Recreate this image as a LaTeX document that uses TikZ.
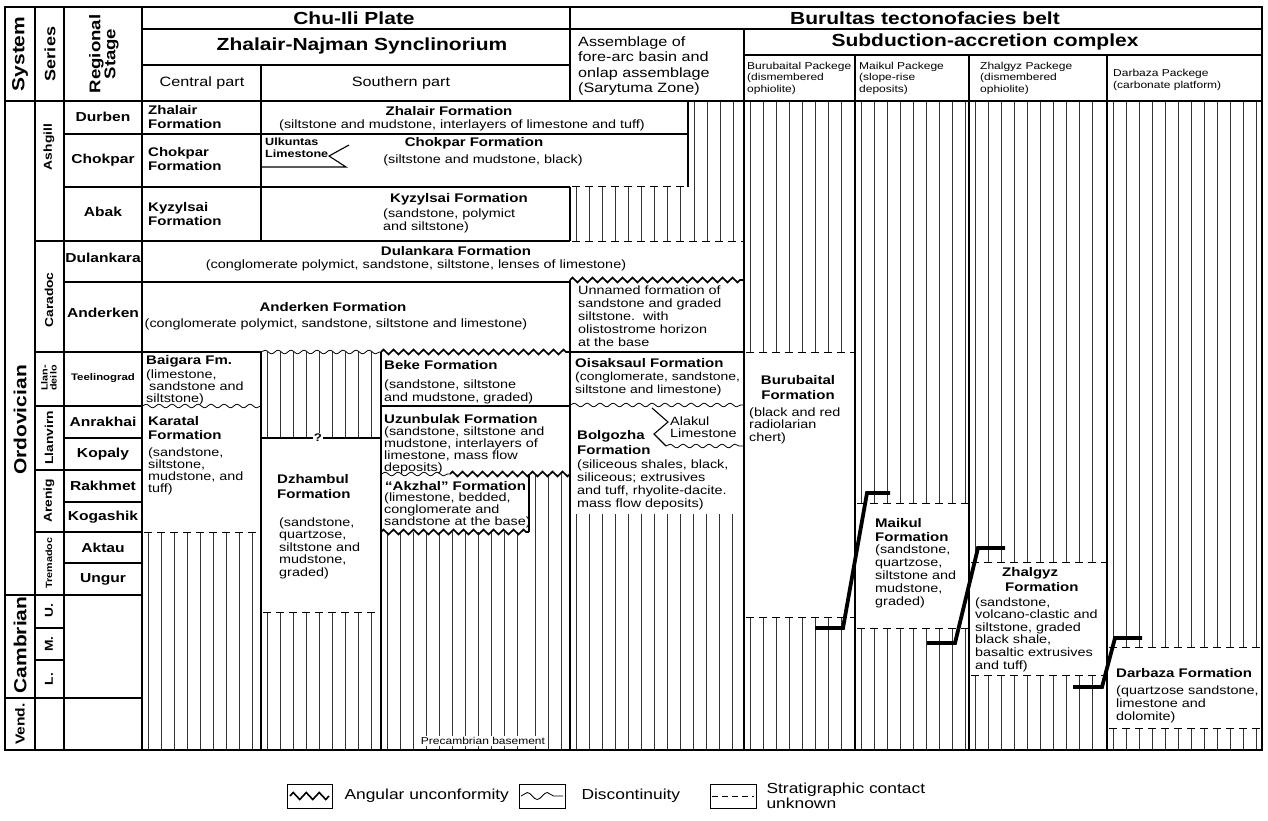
\documentclass[tikz,border=0pt]{standalone}
\usepackage{fontspec}
\setmainfont{Liberation Sans}[FakeStretch=1.2]
\usetikzlibrary{decorations.pathmorphing}

\newcommand{\vhatch}[4]{%
  \pgfmathsetmacro{\hfirst}{#1+6}%
  \pgfmathsetmacro{\hsecond}{#1+19}%
  \pgfmathsetmacro{\hlast}{#2-3}%
  \foreach \hx in {\hfirst,\hsecond,...,\hlast}
    \draw[hatchline] (\hx,#3) -- (\hx,#4);%
}

\begin{document}
\begin{tikzpicture}[x=1pt,y=-1pt]
  \tikzstyle{chartline}=[line width=1.1pt]
  \tikzstyle{hatchline}=[line width=0.6pt,black!80]
  \tikzstyle{contact}=[line width=1pt,dash pattern=on 8pt off 5pt]
  \tikzstyle{discont}=[line width=0.8pt,decorate,decoration={snake,segment length=13pt,amplitude=1.8pt}]
  \tikzstyle{angular}=[line width=1.7pt,decorate,decoration={zigzag,segment length=10pt,amplitude=2.4pt}]
  \tikzstyle{thrust}=[line width=3.8pt]
  \tikzstyle{plate}=[font=\bfseries\fontsize{17.5}{19}\selectfont]
  \tikzstyle{partlabel}=[font=\fontsize{13.5}{15}\selectfont]
  \tikzstyle{pkg}=[font=\fontsize{10}{11.5}\selectfont,align=left,anchor=west,inner sep=0pt]
  \tikzstyle{stagelabel}=[font=\bfseries\fontsize{13}{14}\selectfont]
  \tikzstyle{serieslabel}=[font=\bfseries\fontsize{11.5}{12}\selectfont,rotate=90]
  \tikzstyle{systemlabel}=[font=\bfseries\fontsize{17.5}{19}\selectfont,rotate=90]
  \tikzstyle{fm}=[font=\bfseries\fontsize{12.5}{14}\selectfont,align=left,anchor=west,inner sep=0pt]
  \tikzstyle{desc}=[font=\fontsize{12}{12.5}\selectfont,align=left,anchor=west,inner sep=0pt]
  \tikzstyle{legendtext}=[font=\fontsize{14.5}{16}\selectfont,align=left,anchor=west]

  \useasboundingbox (0,0) rectangle (1268,821);

  \vhatch{688}{744}{101}{241}
  \vhatch{570}{688}{187}{241}
  \vhatch{261}{381}{352}{438}
  \vhatch{142}{261}{532}{750}
  \vhatch{261}{381}{612}{750}
  \vhatch{381}{529}{532}{750}
  \vhatch{529}{570}{474}{750}
  \vhatch{570}{744}{514}{750}
  \vhatch{744}{855}{101}{352}
  \vhatch{744}{855}{617}{750}
  \vhatch{855}{969}{101}{503}
  \vhatch{855}{969}{628}{750}
  \vhatch{969}{1107}{101}{562}
  \vhatch{969}{1107}{675}{750}
  \vhatch{1107}{1262}{101}{647}
  \vhatch{1107}{1262}{728}{750}

  \draw[chartline] (5,7) rectangle (1262,750);
  \draw[chartline] (35,7) -- (35,750);
  \draw[chartline] (64,7) -- (64,750);
  \draw[chartline] (142,7) -- (142,750);
  \draw[chartline] (570,7) -- (570,101);
  \draw[chartline] (142,29) -- (1262,29);
  \draw[chartline] (142,65) -- (570,65);
  \draw[chartline] (744,29) -- (744,750);
  \draw[chartline] (744,55) -- (1262,55);
  \draw[chartline] (855,55) -- (855,750);
  \draw[chartline] (969,55) -- (969,750);
  \draw[chartline] (1107,55) -- (1107,750);
  \draw[chartline] (261,65) -- (261,241);
  \draw[chartline] (5,101) -- (1262,101);
  \draw[chartline] (570,187) -- (570,241);
  \draw[chartline] (570,280) -- (570,750);
  \draw[chartline] (688,101) -- (688,187);
  \draw[chartline] (261,352) -- (261,750);
  \draw[chartline] (381,352) -- (381,750);
  \draw[chartline] (529,474) -- (529,532);

  \foreach \y in {134,187,241,282,352,406,438,470,502,532,563,595,698}
    \draw[chartline] (64,\y) -- (142,\y);
  \foreach \y in {241,352,406,470,532,595,628,660,698}
    \draw[chartline] (35,\y) -- (64,\y);
  \foreach \y in {595,698}
    \draw[chartline] (5,\y) -- (35,\y);

  \draw[chartline] (142,134) -- (688,134);
  \draw[chartline] (142,187) -- (570,187);
  \draw[contact] (572,187) -- (688,187);
  \draw[chartline] (142,241) -- (570,241);
  \draw[contact] (572,241) -- (744,241);
  \draw[chartline] (142,282) -- (570,282);
  \draw[angular] (570,280) -- (744,280);
  \draw[chartline] (142,352) -- (261,352);
  \draw[discont] (261,352) -- (381,352);
  \draw[angular] (381,352) -- (570,352);
  \draw[chartline] (570,352) -- (744,352);
  \draw[contact] (746,352) -- (855,352);
  \draw[discont] (142,406) -- (261,406);
  \draw[chartline] (381,406) -- (570,406);
  \draw[discont] (570,405) -- (744,405);
  \draw[chartline] (261,438) -- (381,438);
  \draw[discont] (381,474) -- (450,474);
  \draw[angular] (450,474) -- (570,474);
  \draw[contact] (144,532) -- (261,532);
  \draw[angular] (381,532) -- (529,532);
  \draw[contact] (263,612) -- (381,612);
  \draw[chartline] (261,167) -- (346,167) -- (329,156) -- (349,145);
  \draw[chartline] (652,408) -- (668,422) -- (654,434) -- (666,446);
  \draw[discont] (666,446) -- (744,446);

  \draw[contact] (746,617) -- (855,617);
  \draw[contact] (857,503) -- (969,503);
  \draw[contact] (857,628) -- (969,628);
  \draw[contact] (971,562) -- (1107,562);
  \draw[contact] (971,675) -- (1107,675);
  \draw[contact] (1109,647) -- (1262,647);
  \draw[contact] (1109,728) -- (1262,728);

  \draw[thrust] (815,628) -- (843,628) -- (867,493) -- (890,493);
  \draw[thrust] (927,643) -- (955,643) -- (978,548) -- (1005,548);
  \draw[thrust] (1073,687) -- (1102,687) -- (1115,638) -- (1142,638);

  \node[systemlabel] (hsystem) at (20,54) {System};
  \node[serieslabel,font=\bfseries\fontsize{15}{16}\selectfont] (hseries) at (50,54) {Series};
  \node[systemlabel,font=\bfseries\fontsize{15.5}{15}\selectfont,align=center] (hstage) at (104,54) {Regional\\Stage};
  \node[plate] (chuili) at (354,18) {Chu-Ili Plate};
  \node[plate] (znsync) at (362,46) {Zhalair-Najman Synclinorium};
  \node[plate] (burultas) at (925,18) {Burultas tectonofacies belt};
  \node[plate] (subacc) at (985,42) {Subduction-accretion complex};
  \node[partlabel] (central) at (202,83) {Central part};
  \node[partlabel] (southern) at (401,83) {Southern part};
  \node[font=\fontsize{13.5}{15.5}\selectfont,align=left,anchor=west,inner sep=0pt] (forearc) at (578,66) {Assemblage of\\fore-arc basin and\\onlap assemblage\\(Sarytuma Zone)};
  \node[pkg] (pburubaital) at (747,78) {Burubaital Packege\\(dismembered\\ophiolite)};
  \node[pkg] (pmaikul) at (859,78) {Maikul Packege\\(slope-rise\\deposits)};
  \node[pkg] (pzhalgyz) at (980,78) {Zhalgyz Packege\\(dismembered\\ophiolite)};
  \node[pkg] (pdarbaza) at (1113,80) {Darbaza Packege\\(carbonate platform)};

  \node[systemlabel] (ordovician) at (20,420) {Ordovician};
  \node[systemlabel] (cambrian) at (20,645) {Cambrian};
  \node[systemlabel,font=\bfseries\fontsize{13}{14}\selectfont] (vend) at (20,724) {Vend.};
  \node[serieslabel] (ashgill) at (49,147) {Ashgill};
  \node[serieslabel] (caradoc) at (49,300) {Caradoc};
  \node[serieslabel,font=\bfseries\fontsize{9}{9}\selectfont,align=center] (llandeilo) at (49,378) {Llan-\\deilo};
  \node[serieslabel] (llanvirn) at (49,438) {Llanvirn};
  \node[serieslabel] (arenig) at (49,501) {Arenig};
  \node[serieslabel,font=\bfseries\fontsize{9}{10}\selectfont] (tremadoc) at (49,563) {Tremadoc};
  \node[serieslabel] (upper) at (49,611) {U.};
  \node[serieslabel] (middle) at (49,644) {M.};
  \node[serieslabel] (lower) at (49,679) {L.};

  \node[stagelabel] (durben) at (103,117) {Durben};
  \node[stagelabel] (chokpar) at (103,160) {Chokpar};
  \node[stagelabel] (abak) at (103,212) {Abak};
  \node[stagelabel] (dulankara) at (103,258) {Dulankara};
  \node[stagelabel] (anderken) at (103,313) {Anderken};
  \node[stagelabel,font=\bfseries\fontsize{9.5}{10}\selectfont] (teelinograd) at (103,378) {Teelinograd};
  \node[stagelabel] (anrakhai) at (103,422) {Anrakhai};
  \node[stagelabel] (kopaly) at (103,454) {Kopaly};
  \node[stagelabel] (rakhmet) at (103,486) {Rakhmet};
  \node[stagelabel] (kogashik) at (103,517) {Kogashik};
  \node[stagelabel] (aktau) at (103,548) {Aktau};
  \node[stagelabel] (ungur) at (103,579) {Ungur};

  \node[fm] (czhalair) at (148,117) {Zhalair\\Formation};
  \node[fm] (cchokpar) at (148,159) {Chokpar\\Formation};
  \node[fm] (ckyzylsai) at (148,214) {Kyzylsai\\Formation};
  \node[fm] (baigara) at (146,361) {Baigara Fm.};
  \node[desc,font=\fontsize{12}{12}\selectfont] (baigarad) at (146,387) {(limestone,\\\hspace{3pt}sandstone and\\siltstone)};
  \node[fm] (karatal) at (148,428) {Karatal\\Formation};
  \node[desc,font=\fontsize{12}{12}\selectfont] (karatald) at (148,471) {(sandstone,\\siltstone,\\mudstone, and\\tuff)};

  \node[fm,anchor=center] (szhalair) at (449,111) {Zhalair Formation};
  \node[desc,anchor=center] (szhalaird) at (462,125) {(siltstone and mudstone, interlayers of limestone and tuff)};
  \node[fm,font=\bfseries\fontsize{10.5}{12}\selectfont] (ulkuntas) at (265,148) {Ulkuntas\\Limestone};
  \node[fm,anchor=center] (schokpar) at (474,143) {Chokpar Formation};
  \node[desc,anchor=center] (schokpard) at (483,160) {(siltstone and mudstone, black)};
  \node[fm] (skyzylsai) at (390,199) {Kyzylsai Formation};
  \node[desc,font=\fontsize{12}{13}\selectfont] (skyzylsaid) at (383,220.5) {(sandstone, polymict\\and siltstone)};
  \node[fm,anchor=center] (sdulankara) at (456,251) {Dulankara Formation};
  \node[desc,anchor=center] (sdulankarad) at (416,265) {(conglomerate polymict, sandstone, siltstone, lenses of limestone)};
  \node[fm,anchor=center] (sanderken) at (333,307) {Anderken Formation};
  \node[desc,anchor=center] (sanderkend) at (336,324) {(conglomerate polymict, sandstone, siltstone and limestone)};
  \node[desc,font=\fontsize{12}{13}\selectfont] (unnamed) at (578,316) {Unnamed formation of\\sandstone and graded\\siltstone.\ \ with\\olistostrome horizon\\at the base};
  \node[font=\bfseries\fontsize{11}{12}\selectfont,fill=white,inner sep=1pt] (qmark) at (318,438) {?};
  \node[fm] (beke) at (384,365) {Beke Formation};
  \node[desc,font=\fontsize{12}{13}\selectfont] (beked) at (384,391.5) {(sandstone, siltstone\\and mudstone, graded)};
  \node[fm] (uzunbulak) at (384,419) {Uzunbulak Formation};
  \node[desc,font=\fontsize{12}{12}\selectfont] (uzunbulakd) at (384,450) {(sandstone, siltstone and\\mudstone, interlayers of\\limestone, mass flow\\deposits)};
  \node[fm] (akzhal) at (385,486) {“Akzhal” Formation};
  \node[desc,font=\fontsize{12}{12}\selectfont] (akzhald) at (384,510) {(limestone, bedded,\\conglomerate and\\sandstone at the base)};
  \node[fm,font=\bfseries\fontsize{12.5}{15}\selectfont] (dzhambul) at (277,486.5) {Dzhambul\\Formation};
  \node[desc] (dzhambuld) at (279,548) {(sandstone,\\quartzose,\\siltstone and\\mudstone,\\graded)};
  \node[font=\fontsize{10}{11}\selectfont,fill=white,inner sep=1.5pt] (basement) at (483,741) {Precambrian basement};

  \node[fm] (oisaksaul) at (575,363) {Oisaksaul Formation};
  \node[desc,font=\fontsize{11.6}{12.5}\selectfont] (oisaksauld) at (575,384) {(conglomerate, sandstone,\\siltstone and limestone)};
  \node[desc,font=\fontsize{12}{12}\selectfont] (alakul) at (670,427) {Alakul\\Limestone};
  \node[fm,font=\bfseries\fontsize{12.5}{15}\selectfont] (bolgozha) at (577,442.5) {Bolgozha\\Formation};
  \node[desc,font=\fontsize{12}{13}\selectfont] (bolgozhad) at (577,484.5) {(siliceous shales, black,\\siliceous; extrusives\\and tuff, rhyolite-dacite.\\mass flow deposits)};

  \node[fm,font=\bfseries\fontsize{12.5}{15}\selectfont,align=center,anchor=center] (burubaital) at (798,387.5) {Burubaital\\Formation};
  \node[desc] (burubaitald) at (749,425.5) {(black and red\\radiolarian\\chert)};
  \node[fm] (maikul) at (875,530) {Maikul\\Formation};
  \node[desc,font=\fontsize{12}{13}\selectfont] (maikuld) at (875,576) {(sandstone,\\quartzose,\\siltstone and\\mudstone,\\graded)};
  \node[fm,font=\bfseries\fontsize{12.5}{15}\selectfont] (zhalgyz) at (1002,579.5) {Zhalgyz\\\hspace{3pt}Formation};
  \node[desc,font=\fontsize{12}{12.6}\selectfont] (zhalgyzd) at (975,634.5) {(sandstone,\\volcano-clastic and\\siltstone, graded\\black shale,\\basaltic extrusives\\and tuff)};
  \node[fm] (darbaza) at (1116,673) {Darbaza Formation};
  \node[desc,font=\fontsize{12}{13}\selectfont] (darbazad) at (1116,704) {(quartzose sandstone,\\limestone and\\dolomite)};

  \draw[line width=0.9pt] (287,784) rectangle (332,808);
  \draw[line width=1.6pt,decorate,decoration={zigzag,segment length=13pt,amplitude=3.5pt}] (290,796) -- (329,796);
  \node[legendtext] (langular) at (341,796) {Angular unconformity};
  \draw[line width=0.9pt] (519,784) rectangle (565,808);
  \draw[line width=0.8pt,decorate,decoration={snake,segment length=20pt,amplitude=3.5pt}] (521,796) -- (563,796);
  \node[legendtext] (ldiscont) at (578,796) {Discontinuity};
  \draw[line width=0.9pt] (710,784) rectangle (756,808);
  \draw[line width=0.9pt,dash pattern=on 6pt off 4pt] (712,796) -- (754,796);
  \node[legendtext,font=\fontsize{14.5}{15.5}\selectfont] (lcontact) at (763,796) {Stratigraphic contact\\unknown};
\end{tikzpicture}
\end{document}
